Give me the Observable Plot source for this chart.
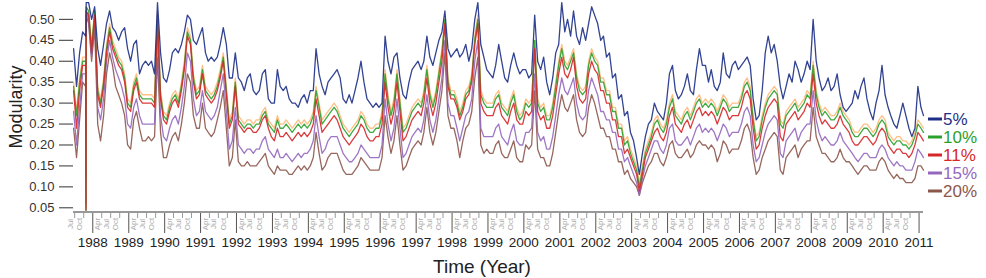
<!DOCTYPE html>
<html><head><meta charset="utf-8">
<script src="https://cdn.jsdelivr.net/npm/d3@7"></script>
<script src="https://cdn.jsdelivr.net/npm/@observablehq/plot@0.6"></script>
<style>
html,body{margin:0;padding:0;background:#fff;}
#chart{width:986px;height:278px;}
</style>
</head><body><div id="chart"></div>
<script>
// ---------- DATA (monthly readings, Jun 1987 .. Feb 2011) ----------
const firstMonth = "1987-06-15";
const seriesNames = ["5%", "10%", "11%", "15%", "20%"];
const seriesColors = ["#1c2f85", "#2ca02c", "#d62728", "#9467bd", "#8c564b"];
const unlabeledColor = "#ff7f0e";

const s5 = [
.43,.34,.42,.47,.46,.54,.50,
.53,.43,.39,.44,.49,.52,.48,.47,.45,.47,.48,.43,
.40,.44,.45,.37,.39,.40,.39,.40,.37,.54,.42,.36,
.35,.38,.42,.43,.42,.44,.47,.51,.50,.45,.44,.46,
.48,.42,.40,.41,.40,.41,.44,.48,.44,.36,.36,.42,
.36,.35,.33,.36,.37,.33,.32,.33,.37,.38,.31,.30,
.30,.38,.34,.33,.34,.31,.30,.30,.29,.31,.32,.30,
.33,.33,.43,.37,.34,.32,.35,.36,.37,.38,.36,.31,
.30,.32,.30,.33,.36,.40,.35,.31,.30,.29,.30,.29,
.30,.46,.40,.37,.41,.42,.36,.32,.31,.35,.38,.39,
.40,.38,.40,.46,.41,.39,.42,.45,.47,.52,.43,.41,
.42,.43,.41,.42,.44,.40,.43,.50,.54,.44,.41,.38,
.37,.36,.39,.44,.40,.36,.35,.39,.42,.39,.37,.38,
.38,.36,.37,.51,.40,.38,.41,.35,.32,.36,.42,.44,
.54,.47,.50,.46,.52,.46,.44,.48,.45,.49,.53,.51,
.49,.45,.46,.41,.42,.36,.37,.31,.32,.27,.28,.23,
.21,.17,.13,.18,.22,.25,.26,.30,.28,.27,.26,.30,
.37,.39,.33,.31,.32,.34,.37,.33,.32,.38,.43,.39,
.39,.35,.38,.34,.33,.35,.42,.37,.36,.39,.40,.38,
.39,.40,.41,.39,.31,.26,.27,.33,.42,.46,.42,.44,
.40,.34,.31,.34,.37,.35,.40,.38,.35,.37,.40,.38,
.50,.40,.36,.33,.34,.36,.33,.34,.37,.32,.29,.28,
.29,.30,.33,.31,.34,.36,.31,.28,.26,.30,.33,.39,
.32,.29,.27,.25,.24,.27,.30,.27,.24,.22,.24,.34,
.29,.27];

const sUnlabeled = [
.35,.28,.36,.41,.41,.52,.44,
.52,.34,.31,.36,.44,.49,.45,.43,.41,.40,.37,.31,
.30,.35,.37,.33,.32,.32,.32,.32,.31,.52,.33,.28,
.27,.30,.32,.33,.31,.35,.40,.48,.46,.37,.33,.34,
.39,.34,.33,.32,.33,.35,.38,.42,.34,.26,.28,.36,
.27,.26,.25,.26,.26,.25,.26,.26,.28,.29,.26,.25,
.24,.27,.25,.25,.26,.25,.24,.25,.26,.25,.26,.25,
.26,.28,.34,.30,.26,.27,.28,.29,.30,.29,.27,.25,
.24,.23,.24,.25,.26,.28,.27,.25,.24,.24,.25,.25,
.28,.38,.32,.28,.31,.38,.31,.24,.25,.27,.29,.30,
.31,.30,.33,.39,.33,.30,.33,.38,.43,.50,.36,.33,
.33,.31,.28,.30,.33,.34,.37,.46,.51,.33,.31,.30,
.30,.30,.32,.33,.30,.29,.28,.31,.33,.29,.27,.28,
.31,.30,.31,.45,.31,.29,.30,.27,.27,.30,.35,.40,
.44,.40,.39,.41,.43,.37,.34,.33,.34,.40,.43,.41,
.40,.36,.36,.33,.33,.29,.29,.25,.25,.21,.22,.19,
.17,.15,.11,.15,.19,.21,.23,.26,.27,.25,.24,.26,
.30,.32,.28,.27,.26,.28,.29,.27,.29,.31,.32,.30,
.31,.30,.31,.30,.28,.30,.32,.31,.29,.30,.30,.30,
.32,.35,.36,.34,.27,.22,.23,.27,.30,.32,.33,.34,
.33,.26,.25,.28,.29,.30,.31,.29,.30,.31,.33,.32,
.40,.33,.30,.28,.29,.28,.27,.27,.28,.30,.28,.27,
.26,.24,.23,.23,.24,.25,.25,.24,.23,.24,.26,.27,
.26,.23,.22,.21,.22,.22,.21,.21,.20,.21,.23,.26,
.25,.24];

const s10 = [
.34,.27,.35,.40,.40,.52,.43,
.52,.33,.30,.35,.43,.48,.44,.42,.40,.39,.36,.30,
.29,.34,.36,.32,.31,.31,.31,.31,.30,.51,.32,.27,
.26,.29,.31,.32,.30,.34,.39,.47,.45,.36,.32,.33,
.38,.33,.32,.31,.32,.34,.37,.41,.33,.25,.27,.35,
.26,.25,.24,.25,.25,.24,.25,.25,.27,.28,.25,.24,
.23,.26,.24,.24,.25,.24,.23,.24,.25,.24,.25,.24,
.25,.27,.33,.29,.25,.26,.27,.28,.29,.28,.26,.24,
.23,.22,.23,.24,.25,.27,.26,.24,.23,.23,.24,.24,
.27,.37,.31,.27,.30,.37,.30,.23,.24,.26,.28,.29,
.30,.29,.32,.38,.32,.29,.32,.37,.42,.50,.35,.32,
.32,.30,.27,.29,.32,.33,.36,.45,.50,.32,.30,.29,
.29,.29,.31,.32,.29,.28,.27,.30,.32,.28,.26,.27,
.30,.29,.30,.45,.30,.28,.29,.26,.26,.29,.34,.39,
.43,.39,.38,.40,.42,.36,.33,.32,.33,.39,.42,.40,
.39,.35,.35,.32,.32,.28,.28,.24,.24,.20,.21,.18,
.16,.14,.10,.14,.18,.20,.22,.25,.26,.24,.23,.25,
.29,.31,.27,.26,.25,.27,.28,.26,.28,.30,.31,.29,
.30,.29,.30,.29,.27,.29,.31,.30,.28,.29,.29,.29,
.31,.34,.35,.33,.26,.21,.22,.26,.29,.31,.32,.33,
.32,.25,.24,.27,.28,.29,.30,.28,.29,.30,.32,.31,
.39,.32,.29,.27,.28,.27,.26,.26,.27,.29,.27,.26,
.25,.23,.22,.22,.23,.24,.24,.23,.22,.23,.25,.26,
.25,.22,.21,.20,.21,.21,.20,.20,.19,.20,.22,.25,
.24,.23];

const s11 = [
.33,.24,.33,.39,.39,.51,.42,
.51,.32,.29,.34,.42,.47,.43,.41,.39,.38,.35,.29,
.28,.33,.35,.31,.30,.30,.30,.30,.29,.50,.31,.26,
.25,.28,.30,.31,.29,.33,.38,.46,.44,.35,.31,.32,
.37,.32,.31,.30,.31,.33,.36,.40,.32,.24,.26,.34,
.25,.24,.23,.24,.24,.23,.23,.24,.26,.27,.24,.22,
.21,.24,.22,.22,.23,.22,.21,.22,.23,.22,.23,.22,
.23,.25,.31,.27,.23,.24,.25,.26,.27,.26,.24,.22,
.21,.20,.21,.22,.23,.25,.24,.22,.21,.21,.22,.22,
.25,.35,.29,.25,.28,.35,.28,.21,.22,.24,.26,.27,
.28,.27,.30,.36,.30,.27,.30,.35,.40,.49,.34,.31,
.31,.29,.26,.28,.31,.32,.35,.44,.49,.30,.28,.27,
.27,.27,.29,.30,.27,.26,.25,.28,.30,.26,.25,.25,
.28,.27,.28,.43,.28,.26,.27,.24,.24,.27,.32,.37,
.41,.37,.36,.38,.41,.34,.31,.30,.31,.37,.40,.38,
.37,.33,.33,.30,.30,.26,.26,.22,.22,.18,.19,.17,
.15,.13,.09,.13,.17,.19,.21,.23,.24,.22,.21,.23,
.27,.29,.25,.24,.23,.25,.26,.24,.26,.28,.29,.27,
.28,.27,.28,.27,.25,.27,.29,.28,.26,.27,.27,.27,
.29,.32,.33,.31,.24,.19,.20,.24,.27,.29,.30,.31,
.30,.22,.21,.25,.26,.27,.28,.26,.27,.28,.30,.29,
.37,.30,.27,.25,.26,.25,.24,.24,.25,.27,.25,.24,
.23,.21,.20,.20,.21,.22,.22,.21,.20,.21,.23,.24,
.23,.20,.19,.18,.19,.19,.18,.18,.17,.18,.20,.23,
.22,.21];

const s15 = [
.28,.20,.29,.37,.37,.50,.41,
.50,.29,.26,.31,.40,.45,.41,.38,.36,.34,.31,.25,
.24,.29,.31,.27,.25,.25,.25,.25,.25,.46,.27,.22,
.21,.24,.26,.27,.25,.29,.34,.42,.40,.31,.27,.28,
.33,.28,.27,.26,.27,.29,.33,.37,.28,.19,.21,.29,
.20,.19,.18,.19,.19,.18,.19,.19,.21,.22,.19,.18,
.17,.19,.17,.17,.18,.17,.16,.17,.18,.17,.18,.18,
.19,.21,.27,.22,.18,.19,.21,.22,.22,.22,.20,.18,
.17,.16,.16,.17,.18,.20,.19,.18,.17,.17,.17,.17,
.20,.31,.25,.21,.24,.31,.24,.17,.18,.20,.22,.23,
.24,.23,.26,.32,.26,.23,.26,.31,.36,.45,.30,.27,
.27,.24,.21,.24,.27,.28,.31,.40,.45,.24,.22,.22,
.22,.22,.24,.25,.22,.21,.20,.23,.25,.21,.20,.20,
.23,.23,.24,.37,.23,.21,.22,.19,.19,.22,.27,.32,
.36,.33,.32,.34,.36,.30,.27,.26,.27,.33,.36,.34,
.32,.28,.28,.26,.26,.23,.23,.19,.19,.16,.17,.15,
.13,.11,.08,.12,.15,.17,.19,.21,.21,.19,.18,.20,
.24,.25,.21,.20,.20,.21,.22,.20,.22,.24,.25,.23,
.24,.23,.24,.23,.21,.23,.25,.24,.22,.23,.23,.23,
.25,.28,.29,.27,.20,.16,.17,.20,.23,.25,.26,.27,
.26,.18,.17,.21,.22,.23,.24,.21,.23,.24,.25,.25,
.33,.26,.23,.21,.22,.21,.20,.20,.21,.23,.21,.20,
.19,.18,.17,.16,.17,.18,.18,.17,.17,.17,.19,.20,
.19,.17,.16,.15,.16,.15,.15,.14,.14,.14,.16,.19,
.18,.17];

const s20 = [
.24,.17,.26,.35,.34,.49,.40,
.48,.25,.21,.27,.37,.42,.39,.34,.32,.30,.27,.20,
.19,.26,.28,.24,.21,.21,.22,.21,.22,.41,.23,.17,
.17,.20,.22,.23,.21,.25,.30,.37,.35,.27,.24,.24,
.30,.24,.23,.22,.23,.26,.29,.33,.24,.15,.17,.26,
.16,.15,.15,.16,.15,.15,.15,.16,.17,.18,.15,.14,
.13,.15,.14,.14,.14,.13,.13,.14,.15,.14,.15,.14,
.15,.17,.23,.18,.14,.15,.17,.18,.18,.18,.16,.14,
.13,.13,.13,.14,.15,.17,.16,.15,.14,.14,.14,.14,
.17,.27,.22,.18,.21,.27,.20,.14,.15,.17,.19,.20,
.21,.20,.23,.29,.23,.20,.23,.28,.33,.42,.27,.24,
.24,.21,.17,.21,.24,.25,.28,.36,.41,.20,.18,.19,
.18,.18,.20,.21,.18,.17,.17,.19,.21,.17,.16,.16,
.20,.19,.20,.33,.19,.17,.17,.15,.15,.18,.23,.28,
.32,.29,.28,.30,.32,.26,.23,.22,.23,.29,.32,.30,
.27,.24,.24,.22,.22,.19,.19,.16,.16,.13,.14,.12,
.11,.10,.08,.11,.13,.15,.16,.18,.18,.16,.15,.17,
.20,.21,.18,.17,.17,.18,.19,.17,.18,.20,.21,.20,
.20,.19,.20,.19,.16,.18,.21,.20,.18,.19,.19,.19,
.21,.24,.25,.23,.17,.13,.14,.17,.19,.21,.22,.23,
.22,.14,.13,.17,.18,.19,.20,.17,.19,.20,.21,.21,
.29,.22,.20,.18,.18,.17,.16,.16,.17,.19,.17,.16,
.16,.15,.14,.13,.14,.15,.15,.14,.14,.14,.16,.17,
.16,.14,.13,.12,.13,.12,.12,.11,.11,.11,.12,.15,
.15,.14];

// Oct 1987 crash: the one-day collapse and the rebound
const crashDates = ["1987-10-19", "1987-10-21"];
const crash5 = [.47, .54];
const crashUnlabeled = [.05, .53];
const crash10 = [.04, .53];
const crash11 = [.045, .52];
const crash15 = [.06, .52];
const crash20 = [.12, .51];

const yTicks = [0.05, 0.10, 0.15, 0.20, 0.25, 0.30, 0.35, 0.40, 0.45, 0.50];
const yearTicks = d3.range(1988, 2012);
const monthTickLabels = ["Apr", "Jul", "Oct"];
const firstYearMonthLabels = ["Jul", "Oct"];

// ---------- BUILD ----------
const start = new Date(firstMonth + "T00:00:00Z");
const xDomain = [new Date("1987-06-14T00:00:00Z"), new Date("2011-02-10T00:00:00Z")];

function buildRows(values, crash) {
  const rows = values.map((v, i) => {
    let d = d3.utcMonth.offset(start, i);
    if (d > xDomain[1]) d = xDomain[1];
    return {date: d, value: v};
  });
  crashDates.forEach((s, i) => rows.push({date: new Date(s + "T00:00:00Z"), value: crash[i]}));
  rows.sort((a, b) => a.date - b.date);
  return rows;
}

const layers = [
  {rows: buildRows(sUnlabeled, crashUnlabeled), color: unlabeledColor, opacity: 0.5},
  {rows: buildRows(s20, crash20), color: seriesColors[4], opacity: 0.9},
  {rows: buildRows(s15, crash15), color: seriesColors[3], opacity: 0.9},
  {rows: buildRows(s10, crash10), color: seriesColors[1], opacity: 0.9},
  {rows: buildRows(s11, crash11), color: seriesColors[2], opacity: 0.9},
  {rows: buildRows(s5, crash5), color: seriesColors[0], opacity: 0.9}
];

const FONT = "'Liberation Sans', Arial, Helvetica, sans-serif";

const plot = Plot.plot({
  width: 986,
  height: 278,
  marginLeft: 73,
  marginRight: 63,
  marginTop: 0,
  marginBottom: 66,
  style: {fontFamily: FONT, fontSize: "13px", color: "#333", background: "white", overflow: "visible"},
  x: {type: "utc", domain: xDomain, axis: null},
  y: {domain: [0.0388, 0.545], ticks: yTicks, tickFormat: d => d.toFixed(2), tickSize: 14, tickPadding: 5, label: null},
  marks: layers.map(l => Plot.line(l.rows, {x: "date", y: "value", stroke: l.color, strokeWidth: 1.3, strokeOpacity: l.opacity}))
});

document.getElementById("chart").appendChild(plot);

// ---------- custom x axis using Plot's x scale ----------
const xs = plot.scale("x");
const xScale = d3.scaleUtc().domain(xs.domain).range(xs.range);
const ysc = plot.scale("y");
const yScale = d3.scaleLinear().domain(ysc.domain).range(ysc.range);
const svg = d3.select(plot);
const axisY = yScale(ysc.domain[0]);

const g = svg.append("g").attr("font-family", FONT);

const monthIndex = {Apr: 3, Jul: 6, Oct: 9};
const monthTicks = [];
firstYearMonthLabels.forEach(m => monthTicks.push({date: new Date(Date.UTC(1987, monthIndex[m], 1)), label: m}));
yearTicks.slice(0, -1).forEach(y => monthTickLabels.forEach(m => monthTicks.push({date: new Date(Date.UTC(y, monthIndex[m], 1)), label: m})));

g.selectAll("line.minor").data(monthTicks).join("line")
  .attr("x1", d => xScale(d.date)).attr("x2", d => xScale(d.date))
  .attr("y1", axisY).attr("y2", axisY + 6)
  .attr("stroke", "#999").attr("stroke-width", 1);

g.selectAll("text.month").data(monthTicks).join("text")
  .attr("transform", d => `translate(${xScale(d.date) - 4},${axisY + 12}) rotate(-90)`)
  .attr("text-anchor", "middle").attr("dominant-baseline", "middle")
  .attr("font-size", 8).attr("fill", "#aaa").text(d => d.label);

const yearDates = yearTicks.map(y => new Date(Date.UTC(y, 0, 1)));
g.selectAll("line.major").data(yearDates).join("line")
  .attr("x1", d => xScale(d)).attr("x2", d => xScale(d))
  .attr("y1", axisY).attr("y2", axisY + 21)
  .attr("stroke", "#555").attr("stroke-width", 1);

g.selectAll("text.year").data(yearDates).join("text")
  .attr("x", d => xScale(d)).attr("y", axisY + 35)
  .attr("text-anchor", "middle").attr("font-size", 13.5).attr("fill", "#222")
  .text(d => d.getUTCFullYear());

g.append("line")
  .attr("x1", xs.range[0]).attr("x2", xs.range[1])
  .attr("y1", axisY).attr("y2", axisY)
  .attr("stroke", "#999").attr("stroke-width", 2);

// axis titles
g.append("text").attr("x", 482).attr("y", 273).attr("text-anchor", "middle")
  .attr("font-size", 19).attr("fill", "#222").text("Time (Year)");
g.append("text").attr("transform", "translate(22,107) rotate(-90)").attr("text-anchor", "middle")
  .attr("font-size", 18).attr("fill", "#222").text("Modularity");

// legend
const lg = svg.append("g").attr("font-family", FONT).attr("text-anchor", "start");
seriesNames.forEach((name, i) => {
  const y = 119 + i * 18;
  lg.append("line").attr("x1", 928).attr("x2", 942).attr("y1", y).attr("y2", y)
    .attr("stroke", seriesColors[i]).attr("stroke-width", 3);
  lg.append("text").attr("x", 943).attr("y", y).attr("dy", "0.36em")
    .attr("text-anchor", "start")
    .attr("font-size", 17).attr("fill", seriesColors[i]).text(name);
});
</script>
</body></html>
